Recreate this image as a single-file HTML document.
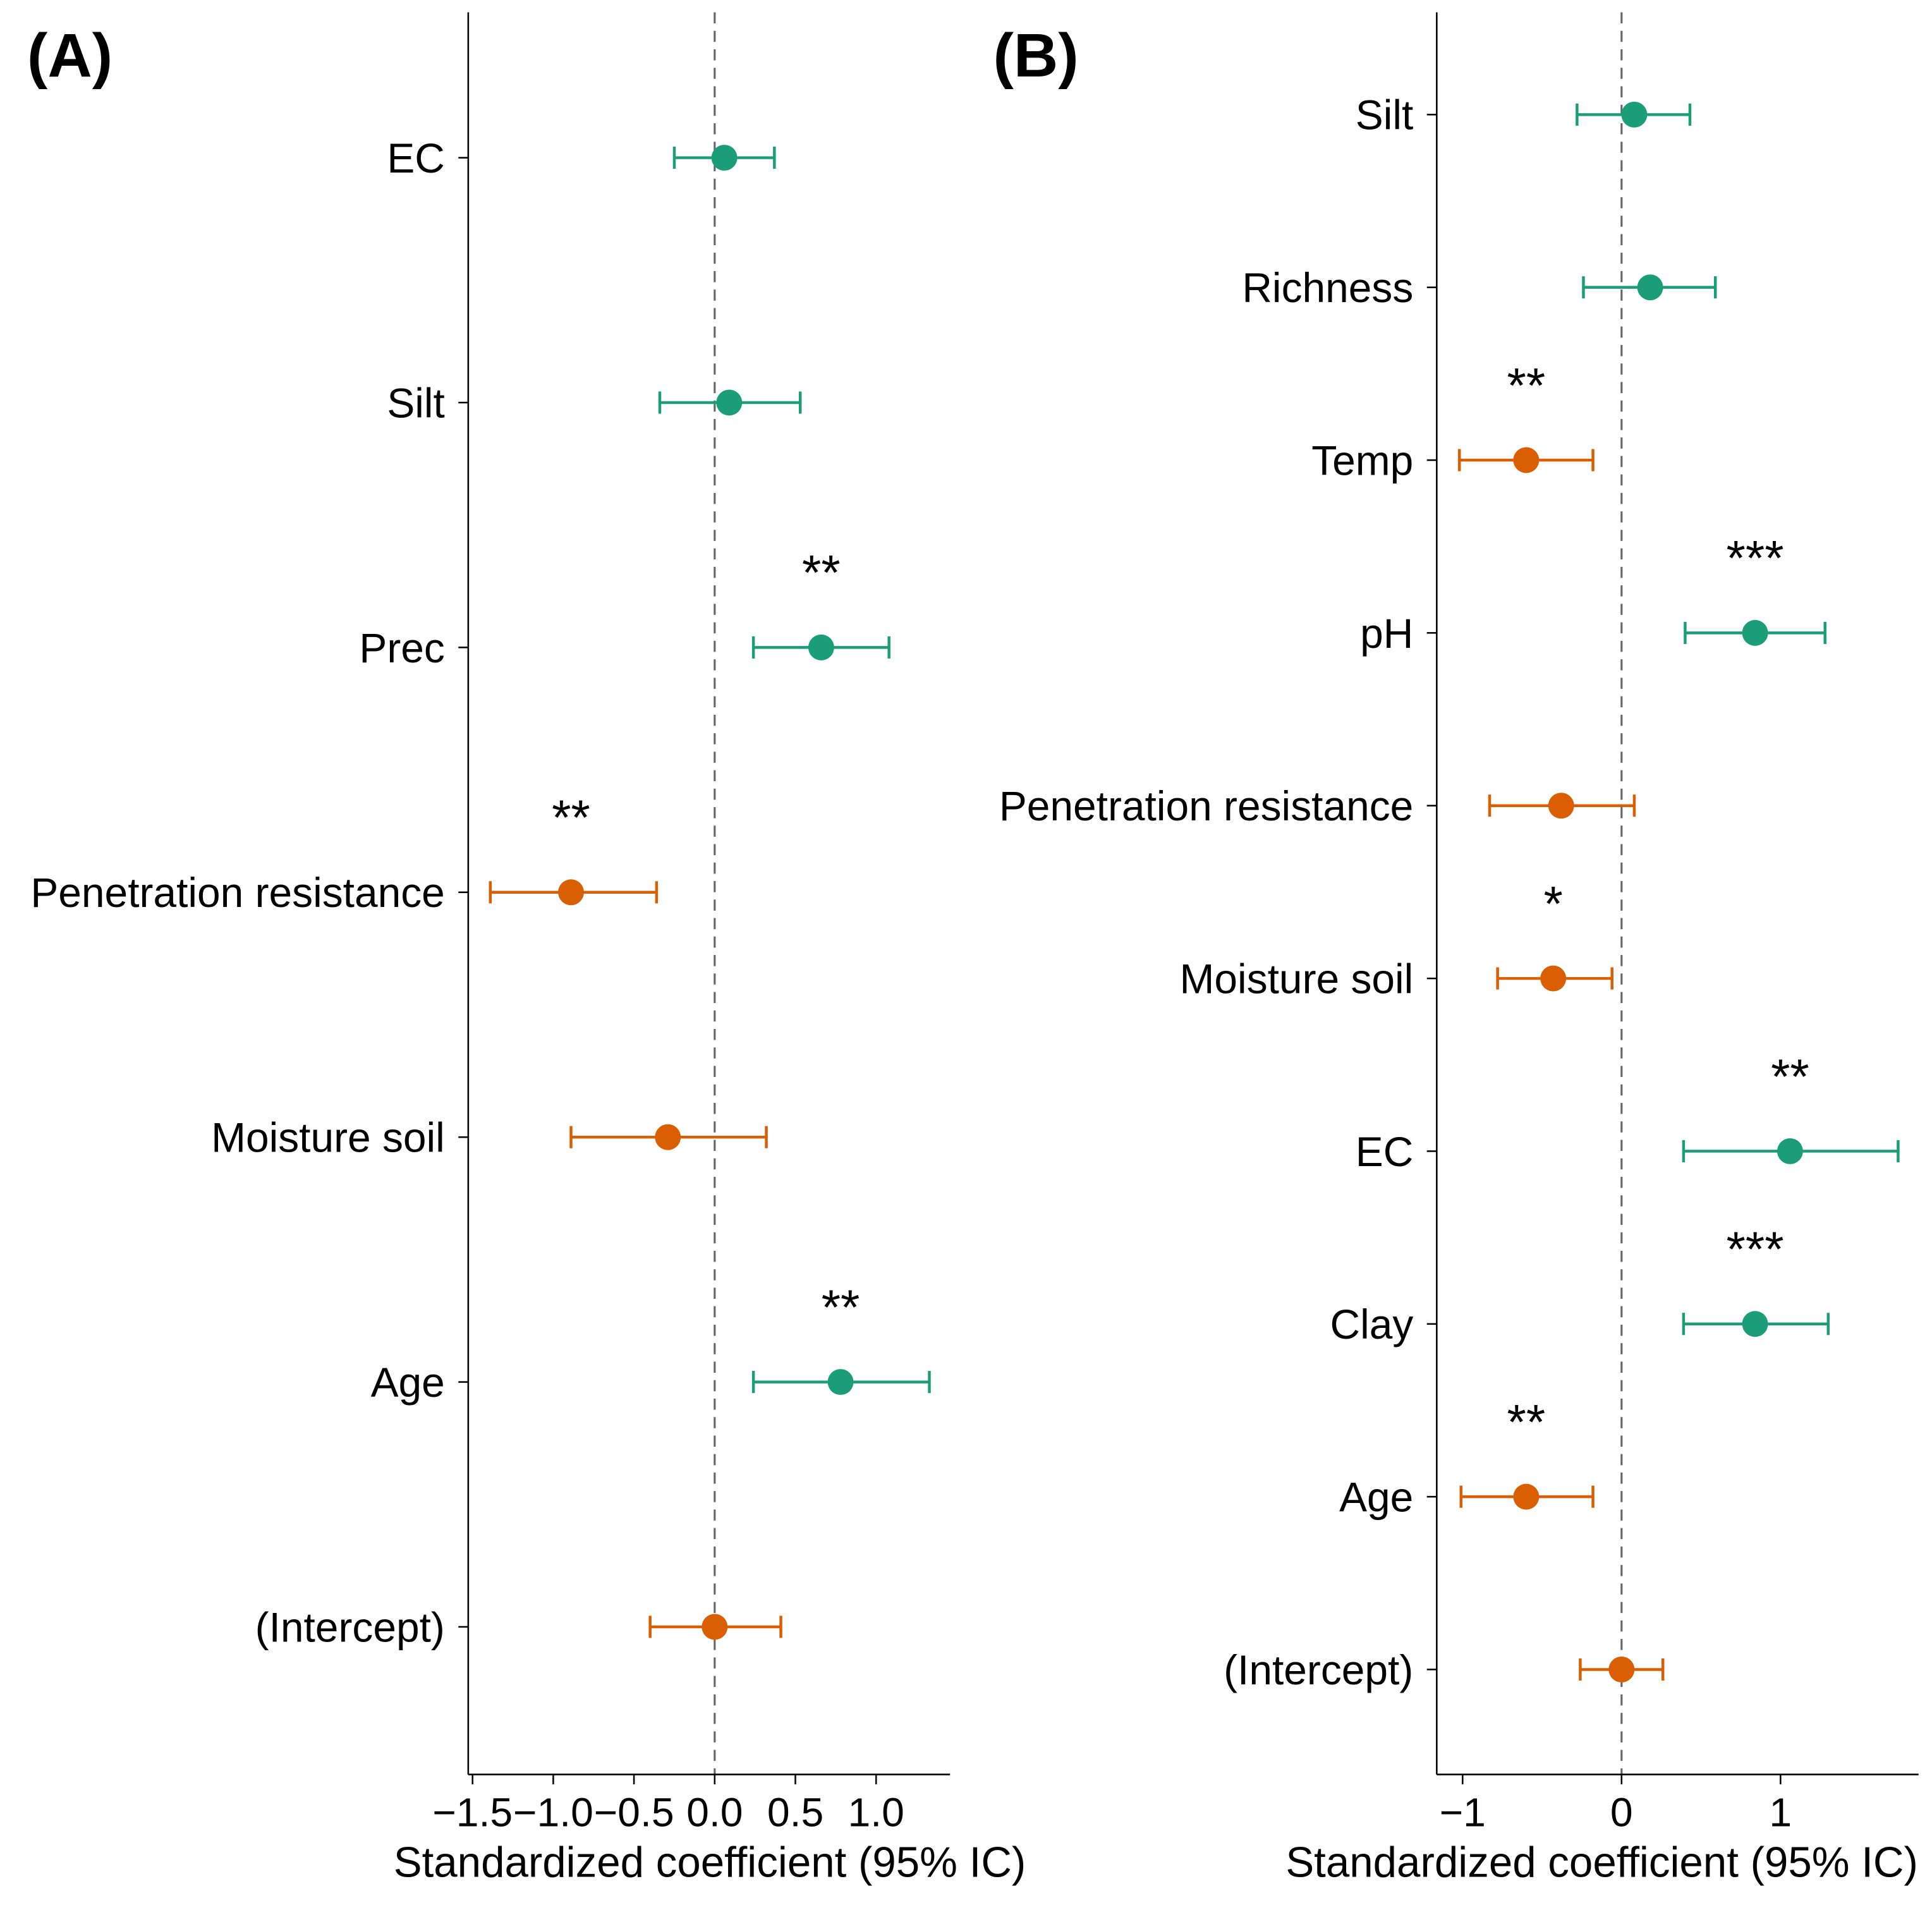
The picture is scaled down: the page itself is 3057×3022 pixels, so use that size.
<!DOCTYPE html>
<html><head><meta charset="utf-8"><style>
html,body{margin:0;padding:0;background:#fff;}
svg{display:block;font-family:"Liberation Sans",Arial,sans-serif;}
</style></head><body>
<svg id="chart" width="3057" height="3022" viewBox="0 0 3057 3022" xmlns="http://www.w3.org/2000/svg">
<rect width="3057" height="3022" fill="#fff"/>
<g id="root" transform="scale(1.9497)"></g>
</svg>
<script>
// Panel A data
const catsA = ["EC","Silt","Prec","Penetration resistance","Moisture soil","Age","(Intercept)"];
const estA = [0.06, 0.09, 0.66, -0.89, -0.29, 0.78, 0.0];
const lowA = [-0.25, -0.34, 0.24, -1.39, -0.89, 0.24, -0.40];
const highA = [0.37, 0.53, 1.08, -0.36, 0.32, 1.33, 0.41];
const sigA = ["", "", "**", "**", "", "**", ""];
const ticksA = [-1.5, -1.0, -0.5, 0.0, 0.5, 1.0];
const tickLabelsA = ["\u22121.5", "\u22121.0", "\u22120.5", "0.0", "0.5", "1.0"];

// Panel B data
const catsB = ["Silt","Richness","Temp","pH","Penetration resistance","Moisture soil","EC","Clay","Age","(Intercept)"];
const estB = [0.08, 0.18, -0.60, 0.84, -0.38, -0.43, 1.06, 0.84, -0.60, 0.0];
const lowB = [-0.28, -0.24, -1.02, 0.40, -0.83, -0.78, 0.39, 0.39, -1.01, -0.26];
const highB = [0.43, 0.59, -0.18, 1.28, 0.08, -0.06, 1.74, 1.30, -0.18, 0.26];
const sigB = ["", "", "**", "***", "", "*", "**", "***", "**", ""];
const ticksB = [-1, 0, 1];
const tickLabelsB = ["\u22121", "0", "1"];

const NS = "http://www.w3.org/2000/svg";
const root = document.getElementById("root");
function mk(tag, attrs, parent, text) {
  const e = document.createElementNS(NS, tag);
  for (const k in attrs) e.setAttribute(k, attrs[k]);
  if (text !== undefined) e.textContent = text;
  parent.appendChild(e);
  return e;
}
const GREEN = "#1b9e77", ORANGE = "#d95f02";

function panel(cfg) {
  const g = mk("g", {}, root);
  
  
  const x = v => cfg.x0 + v * cfg.unit;
  const y = i => cfg.yTop + i * cfg.step;
  const zl = mk("line", {x1: x(0), x2: x(0), y1: cfg.top, y2: cfg.bottom, stroke: "#666", "stroke-width": 1.6, "stroke-dasharray": "9 6"}, g);
  
  
  const ya = mk("line", {x1: cfg.axisX, x2: cfg.axisX, y1: cfg.top, y2: cfg.bottom, stroke: "#000", "stroke-width": 1.3}, g);
  
  
  const xa = mk("line", {x1: cfg.axisX, x2: cfg.right, y1: cfg.bottom, y2: cfg.bottom, stroke: "#000", "stroke-width": 1.3}, g);
  
  
  cfg.ticks.forEach((t, i) => {
    const tk = mk("line", {x1: x(t), x2: x(t), y1: cfg.bottom, y2: cfg.bottom + 8, stroke: "#000", "stroke-width": 1.3}, g);
    
    
    const tl = mk("text", {x: x(t), y: 1482, "text-anchor": "middle", "font-size": 33, fill: "#000"}, g, cfg.tickLabels[i]);
    
    
  });
  const at = mk("text", {x: cfg.titleX, y: 1523, "text-anchor": "middle", "font-size": 34.5, fill: "#000"}, g, "Standardized coefficient (95% IC)");
  
  
  const pt = mk("text", {x: cfg.labelX, y: 62, "font-size": 50, "font-weight": "bold", fill: "#000"}, g, cfg.title);
  
  
  cfg.cats.forEach((c, i) => {
    const yy = y(i);
    const tk = mk("line", {x1: cfg.axisX - 8, x2: cfg.axisX, y1: yy, y2: yy, stroke: "#000", "stroke-width": 1.3}, g);
    
    
    const lb = mk("text", {x: cfg.axisX - 19, y: yy + 12, "text-anchor": "end", "font-size": 33.8, fill: "#000"}, g, c);
    
    
    const col = cfg.est[i] > 0.001 ? GREEN : ORANGE;
    const eb = mk("g", {stroke: col, "stroke-width": 2.3}, g);
    
    
    mk("line", {x1: x(cfg.low[i]), x2: x(cfg.high[i]), y1: yy, y2: yy}, eb);
    mk("line", {x1: x(cfg.low[i]), x2: x(cfg.low[i]), y1: yy - 9, y2: yy + 9}, eb);
    mk("line", {x1: x(cfg.high[i]), x2: x(cfg.high[i]), y1: yy - 9, y2: yy + 9}, eb);
    const pnt = mk("circle", {cx: x(cfg.est[i]), cy: yy, r: 10.5, fill: col}, g);
    
    
    if (cfg.sig[i]) {
      const st = mk("text", {x: x(cfg.est[i]), y: yy - 47, "text-anchor": "middle", "font-size": 40, fill: "#000"}, g, cfg.sig[i]);
      
      
    }
  });
}

panel({name: "panel-a", title: "(A)", labelX: 22, titleX: 576, cats: catsA, est: estA, low: lowA, high: highA, sig: sigA,
  ticks: ticksA, tickLabels: tickLabelsA, x0: 580, unit: 131, axisX: 380, right: 771, top: 10, bottom: 1440,
  yTop: 128, step: 198.7});
panel({name: "panel-b", title: "(B)", labelX: 806, titleX: 1300, cats: catsB, est: estB, low: lowB, high: highB, sig: sigB,
  ticks: ticksB, tickLabels: tickLabelsB, x0: 1316, unit: 129, axisX: 1166, right: 1557, top: 10, bottom: 1440,
  yTop: 93, step: 140.2});
</script>
</body></html>
